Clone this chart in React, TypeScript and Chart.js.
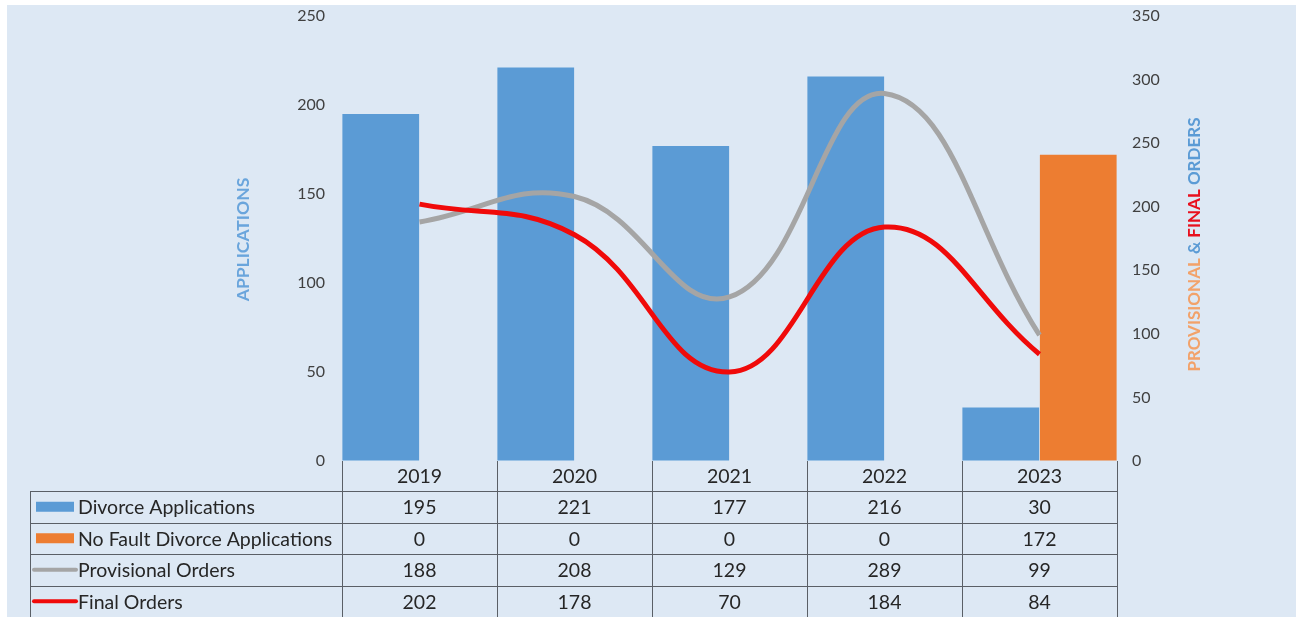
import React, { useEffect, useRef } from 'react';
import { Chart, registerables } from 'chart.js';

Chart.register(...registerables);

const categories = ['2019', '2020', '2021', '2022', '2023'];
const divorceApplications = [195, 221, 177, 216, 30];
const noFaultApplications = [0, 0, 0, 0, 172];
const provisionalOrders = [188, 208, 129, 289, 99];
const finalOrders = [202, 178, 70, 184, 84];
const seriesLabels = ['Divorce Applications', 'No Fault Divorce Applications', 'Provisional Orders', 'Final Orders'];
const leftAxisMax = 250;
const rightAxisMax = 350;
const tickStep = 50;
const leftTitle = 'APPLICATIONS';
const rightTitleParts = ['PROVISIONAL', ' & ', 'FINAL', ' ORDERS'];

const BLUE = '#5b9bd5';
const ORANGE = '#ed7d31';
const GRAY = '#a5a5a5';
const RED = '#f00a0a';
const BG = '#dde8f4';
const FONT = 'Lato, "Open Sans", sans-serif';
const TEXT = '#404040';

const W = 1296;
const H = 617;

const backgroundPlugin = {
  id: 'bgPlugin',
  beforeDraw(chart: any) {
    const ctx = chart.ctx;
    ctx.save();
    ctx.fillStyle = '#ffffff';
    ctx.fillRect(0, 0, W, H);
    ctx.fillStyle = BG;
    ctx.fillRect(7, 5, W - 7, H - 5);
    ctx.restore();
  },
};

const titlesPlugin = {
  id: 'titlesPlugin',
  afterDraw(chart: any) {
    const { ctx, chartArea } = chart;
    const cy = (chartArea.top + chartArea.bottom) / 2;
    ctx.save();
    ctx.textBaseline = 'middle';
    // left title
    ctx.font = `bold 17.5px ${FONT}`;
    ctx.save();
    ctx.translate(243, cy + 1);
    ctx.rotate(-Math.PI / 2);
    ctx.textAlign = 'center';
    ctx.fillStyle = '#6aa5dc';
    ctx.fillText(leftTitle, 0, 0);
    ctx.restore();
    // right title multi-colour
    ctx.font = `bold 17px ${FONT}`;
    const colors = ['#f2a26a', BLUE, '#e8101e', BLUE];
    const widths = rightTitleParts.map((p) => ctx.measureText(p).width);
    const total = widths.reduce((a, b) => a + b, 0);
    ctx.save();
    ctx.translate(1195, cy + 6);
    ctx.rotate(-Math.PI / 2);
    ctx.textAlign = 'left';
    let pos = -total / 2;
    rightTitleParts.forEach((p, i) => {
      ctx.fillStyle = colors[i];
      ctx.fillText(p, pos, 0);
      pos += widths[i];
    });
    ctx.restore();
    ctx.restore();
  },
};

const tablePlugin = {
  id: 'tablePlugin',
  afterDraw(chart: any) {
    const { ctx, chartArea, scales } = chart;
    const xs = scales.x;
    const n = categories.length;
    const colW = (chartArea.right - chartArea.left) / n;
    const top = chartArea.bottom;
    const headerH = 30;
    const rowH = 31.5;
    const tableLeft = 30;
    const rows = [divorceApplications, noFaultApplications, provisionalOrders, finalOrders];
    ctx.save();
    ctx.strokeStyle = '#5a5f66';
    ctx.lineWidth = 1;
    ctx.beginPath();
    for (let i = 0; i <= n; i++) {
      const xx = Math.round(chartArea.left + i * colW) + 0.5;
      ctx.moveTo(xx, top);
      ctx.lineTo(xx, H);
    }
    ctx.moveTo(tableLeft + 0.5, top + headerH);
    ctx.lineTo(tableLeft + 0.5, H);
    for (let r = 0; r < rows.length; r++) {
      const yy = Math.round(top + headerH + r * rowH) + 0.5;
      ctx.moveTo(tableLeft, yy);
      ctx.lineTo(Math.round(chartArea.right) + 1, yy);
    }
    ctx.stroke();

    ctx.font = `19.5px ${FONT}`;
    ctx.fillStyle = '#262626';
    ctx.textBaseline = 'middle';
    ctx.textAlign = 'center';
    categories.forEach((c, i) => {
      ctx.fillText(c, xs.getPixelForValue(i), top + headerH / 2 + 1);
    });
    rows.forEach((row, r) => {
      const cy = top + headerH + r * rowH + rowH / 2 + 1;
      row.forEach((v, i) => {
        ctx.fillText(String(v), xs.getPixelForValue(i), cy);
      });
    });

    // legend keys + labels
    rows.forEach((_, r) => {
      const cy = top + headerH + r * rowH + rowH / 2;
      if (r < 2) {
        ctx.fillStyle = r === 0 ? BLUE : ORANGE;
        ctx.fillRect(36, cy - 5, 38, 10);
      } else {
        ctx.strokeStyle = r === 2 ? GRAY : RED;
        ctx.lineWidth = 4;
        ctx.lineCap = 'round';
        ctx.beginPath();
        ctx.moveTo(34, cy);
        ctx.lineTo(76, cy);
        ctx.stroke();
      }
      ctx.fillStyle = '#262626';
      ctx.textAlign = 'left';
      ctx.fillText(seriesLabels[r], 78, cy + 1);
    });
    ctx.restore();
  },
};

export default function App() {
  const ref = useRef<HTMLCanvasElement | null>(null);
  useEffect(() => {
    if (!ref.current) return;
    const chart = new Chart(ref.current, {
      type: 'bar',
      data: {
        labels: categories,
        datasets: [
          {
            type: 'line',
            label: seriesLabels[3],
            data: finalOrders,
            yAxisID: 'y1',
            borderColor: RED,
            borderWidth: 5,
            pointRadius: 0,
            tension: 0.42,
            order: 0,
          } as any,
          {
            type: 'line',
            label: seriesLabels[2],
            data: provisionalOrders,
            yAxisID: 'y1',
            borderColor: GRAY,
            borderWidth: 5,
            pointRadius: 0,
            tension: 0.42,
            order: 1,
          } as any,
          {
            type: 'bar',
            label: seriesLabels[0],
            data: divorceApplications,
            yAxisID: 'y',
            backgroundColor: BLUE,
            barPercentage: 0.99,
            categoryPercentage: 1,
            order: 2,
          },
          {
            type: 'bar',
            label: seriesLabels[1],
            data: noFaultApplications,
            yAxisID: 'y',
            backgroundColor: ORANGE,
            barPercentage: 0.99,
            categoryPercentage: 1,
            order: 2,
          },
        ],
      },
      options: {
        responsive: false,
        animation: false,
        layout: { padding: { left: 0, right: 0, top: 16, bottom: H - 461 } },
        plugins: { legend: { display: false }, tooltip: { enabled: false } },
        scales: {
          x: { display: false, offset: true },
          y: {
            position: 'left',
            min: 0,
            max: leftAxisMax,
            ticks: { stepSize: tickStep, padding: 0, color: TEXT, font: { family: FONT, size: 16 } },
            grid: { display: true, color: 'rgba(0,0,0,0)', drawOnChartArea: false, drawTicks: true, tickLength: 17 },
            border: { display: false },
            afterFit: (s: any) => {
              s.width = 342;
            },
          },
          y1: {
            position: 'right',
            min: 0,
            max: rightAxisMax,
            ticks: { stepSize: tickStep, padding: 0, color: TEXT, font: { family: FONT, size: 16 } },
            grid: { display: true, color: 'rgba(0,0,0,0)', drawOnChartArea: false, drawTicks: true, tickLength: 15 },
            border: { display: false },
            afterFit: (s: any) => {
              s.width = W - 1117;
            },
          },
        },
      },
      plugins: [backgroundPlugin, titlesPlugin, tablePlugin],
    });
    return () => chart.destroy();
  }, []);
  return (
    <div style={{ position: 'absolute', left: 0, top: 0, width: W, height: H }}>
      <canvas ref={ref} width={W} height={H} style={{ width: W, height: H, display: 'block' }} />
    </div>
  );
}
